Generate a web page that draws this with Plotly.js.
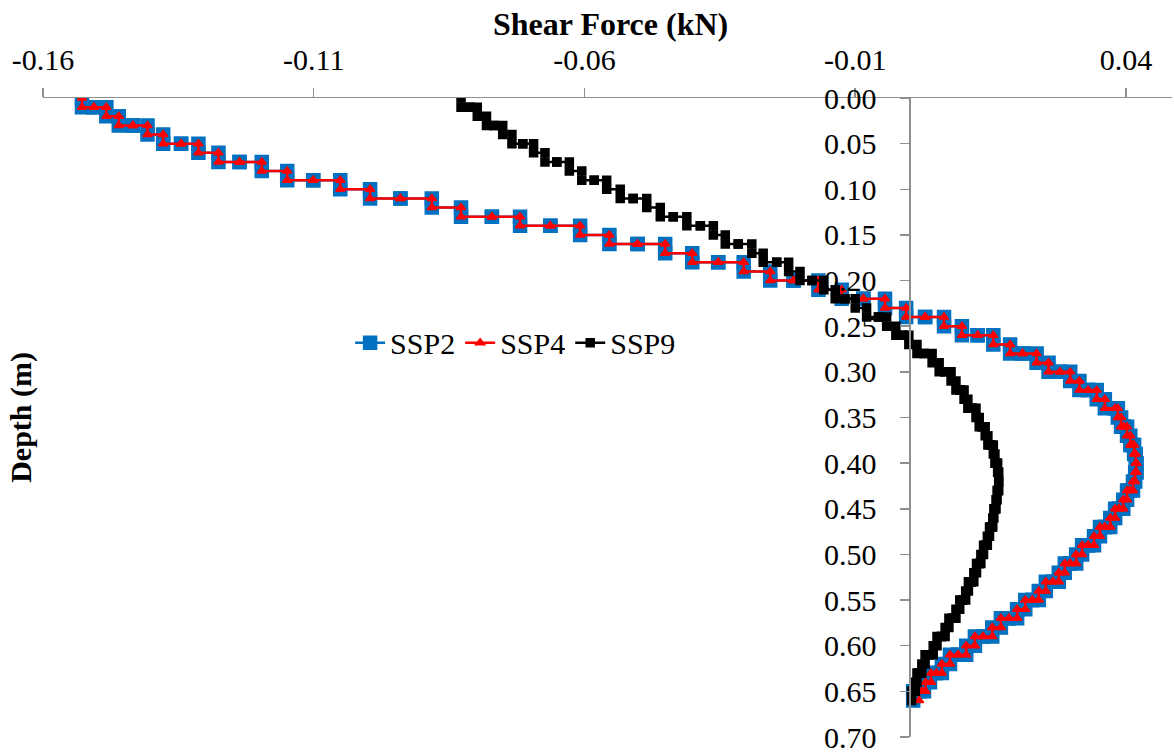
<!DOCTYPE html>
<html>
<head>
<meta charset="utf-8">
<script src="https://cdn.plot.ly/plotly-3.0.1.min.js"></script>
<style>
  html, body { margin: 0; padding: 0; background: #ffffff; }
  #chart { width: 1174px; height: 753px; }
</style>
</head>
<body>
<div id="chart"></div>
<script>
// Node depths (m), as plotted (rounded to 0.01)
const depthNodes = [
  0.00,0.01,0.01,0.02,0.03,0.03,0.04,0.05,0.05,0.06,
  0.07,0.07,0.08,0.09,0.09,0.10,0.11,0.11,0.12,0.13,
  0.13,0.14,0.14,0.15,0.16,0.16,0.17,0.18,0.18,0.19,
  0.20,0.20,0.21,0.22,0.22,0.23,0.24,0.24,0.25,0.26,
  0.26,0.27,0.28,0.28,0.29,0.30,0.30,0.31,0.32,0.32,
  0.33,0.34,0.34,0.35,0.36,0.36,0.37,0.38,0.38,0.39,
  0.40,0.40,0.41,0.41,0.42,0.43,0.43,0.44,0.45,0.45,
  0.46,0.47,0.47,0.48,0.49,0.49,0.50,0.51,0.51,0.52,
  0.53,0.53,0.54,0.55,0.55,0.56,0.57,0.57,0.58,0.59,
  0.59,0.60,0.61,0.61,0.62,0.63,0.63,0.64,0.65,0.65,
  0.66
];

// Element shear force (kN), one value per element between consecutive nodes
const shearSSP2 = [
  -0.1528,-0.1506,-0.1483,-0.1460,-0.1434,-0.1407,-0.1378,-0.1345,-0.1313,-0.1276,
  -0.1237,-0.1196,-0.1149,-0.1101,-0.1051,-0.0996,-0.0940,-0.0882,-0.0828,-0.0771,
  -0.0719,-0.0663,-0.0608,-0.0554,-0.0502,-0.0451,-0.0401,-0.0353,-0.0306,-0.0257,
  -0.0214,-0.0168,-0.0125,-0.0085,-0.0045,-0.0006,0.0029,0.0064,0.0097,0.0126,
  0.0155,0.0186,0.0209,0.0235,0.0257,0.0278,0.0297,0.0314,0.0330,0.0346,
  0.0361,0.0380,0.0385,0.0391,0.0396,0.0402,0.0408,0.0411,0.0415,0.0418,
  0.0419,0.0419,0.0419,0.0417,0.0413,0.0407,0.0402,0.0395,0.0387,0.0380,
  0.0371,0.0361,0.0352,0.0341,0.0330,0.0319,0.0308,0.0297,0.0287,0.0276,
  0.0265,0.0252,0.0239,0.0227,0.0214,0.0199,0.0184,0.0169,0.0153,0.0136,
  0.0121,0.0105,0.0090,0.0075,0.0060,0.0049,0.0038,0.0027,0.0018,0.0007
];

const shearSSP4 = [
  -0.1528,-0.1506,-0.1483,-0.1460,-0.1434,-0.1407,-0.1378,-0.1345,-0.1313,-0.1276,
  -0.1237,-0.1196,-0.1149,-0.1101,-0.1051,-0.0996,-0.0940,-0.0882,-0.0828,-0.0771,
  -0.0719,-0.0663,-0.0608,-0.0554,-0.0502,-0.0451,-0.0401,-0.0353,-0.0306,-0.0257,
  -0.0214,-0.0168,-0.0125,-0.0085,-0.0045,-0.0006,0.0029,0.0064,0.0097,0.0126,
  0.0155,0.0186,0.0209,0.0235,0.0257,0.0278,0.0297,0.0314,0.0330,0.0346,
  0.0361,0.0380,0.0385,0.0391,0.0396,0.0402,0.0408,0.0411,0.0415,0.0418,
  0.0419,0.0419,0.0419,0.0417,0.0413,0.0407,0.0402,0.0395,0.0387,0.0380,
  0.0371,0.0361,0.0352,0.0341,0.0330,0.0319,0.0308,0.0297,0.0287,0.0276,
  0.0265,0.0252,0.0239,0.0227,0.0214,0.0199,0.0184,0.0169,0.0153,0.0136,
  0.0121,0.0105,0.0090,0.0075,0.0060,0.0050,0.0040,0.0030,0.0024,0.0018
];

const shearSSP9 = [
  -0.0828,-0.0812,-0.0798,-0.0781,-0.0767,-0.0751,-0.0734,-0.0714,-0.0694,-0.0673,
  -0.0651,-0.0628,-0.0605,-0.0582,-0.0559,-0.0534,-0.0510,-0.0485,-0.0460,-0.0436,
  -0.0411,-0.0386,-0.0362,-0.0340,-0.0316,-0.0291,-0.0270,-0.0245,-0.0223,-0.0202,
  -0.0180,-0.0158,-0.0137,-0.0119,-0.0100,-0.0079,-0.0057,-0.0042,-0.0025,-0.0012,
  -0.0001,0.0014,0.0027,0.0042,0.0055,0.0066,0.0077,0.0086,0.0094,0.0101,
  0.0108,0.0116,0.0123,0.0129,0.0134,0.0140,0.0145,0.0150,0.0155,0.0158,
  0.0161,0.0163,0.0164,0.0165,0.0165,0.0164,0.0162,0.0160,0.0158,0.0156,
  0.0154,0.0151,0.0148,0.0144,0.0141,0.0137,0.0132,0.0129,0.0124,0.0119,
  0.0114,0.0109,0.0104,0.0098,0.0093,0.0086,0.0080,0.0073,0.0066,0.0059,
  0.0051,0.0044,0.0036,0.0029,0.0023,0.0018,0.0014,0.0011,0.0007,0.0004
];

const seriesNames = ["SSP2", "SSP4", "SSP9"];
const xTitle = "Shear Force (kN)";
const yTitle = "Depth (m)";
const xTickVals = [-0.16, -0.11, -0.06, -0.01, 0.04];
const xTickText = ["-0.16", "-0.11", "-0.06", "-0.01", "0.04"];
const yTickVals = [0.00,0.05,0.10,0.15,0.20,0.25,0.30,0.35,0.40,0.45,0.50,0.55,0.60,0.65,0.70];
const yTickText = ["0.00","0.05","0.10","0.15","0.20","0.25","0.30","0.35","0.40","0.45","0.50","0.55","0.60","0.65","0.70"];

// each element's shear is plotted at its top node and bottom node
function stair(vals) {
  const x = [], y = [];
  for (let i = 0; i < vals.length; i++) {
    x.push(vals[i]); y.push(depthNodes[i]);
    x.push(vals[i]); y.push(depthNodes[i + 1]);
  }
  return {x, y};
}

const s2 = stair(shearSSP2), s4 = stair(shearSSP4), s9 = stair(shearSSP9);

const FONT = "serif";

const traces = [
  {
    x: s2.x, y: s2.y, name: seriesNames[0], type: "scatter", mode: "lines+markers",
    line: {color: "#0070C0", width: 2.5},
    marker: {symbol: "square", size: 11, color: "#0070C0", line: {color: "#0070C0", width: 3.5}}
  },
  {
    x: s4.x, y: s4.y, name: seriesNames[1], type: "scatter", mode: "lines+markers",
    line: {color: "#FF0000", width: 2.5},
    marker: {symbol: "triangle-up", size: 8, color: "#FF0000", line: {color: "#FF0000", width: 1.5}}
  },
  {
    x: s9.x, y: s9.y, name: seriesNames[2], type: "scatter", mode: "lines+markers",
    line: {color: "#000000", width: 2.5},
    marker: {symbol: "square", size: 6, color: "#000000", line: {color: "#000000", width: 3.5}}
  }
];

const xMin = -0.16, xMax = 0.0485;
const yAxisPos = (0 - xMin) / (xMax - xMin);

const layout = {
  width: 1174, height: 753,
  paper_bgcolor: "#ffffff", plot_bgcolor: "#ffffff",
  margin: {l: 42.7, r: 1.8, t: 97.7, b: 15.5, pad: 0},
  showlegend: true,
  legend: {
    orientation: "h", x: 0.272, y: 0.617, xanchor: "left", yanchor: "middle",
    bgcolor: "rgba(0,0,0,0)", font: {family: FONT, size: 30, color: "#000000"}
  },
  xaxis: {
    side: "top", range: [xMin, xMax], tickmode: "array",
    tickvals: xTickVals, ticktext: xTickText,
    showgrid: false, zeroline: false, showline: true,
    linecolor: "#8f8f8f", linewidth: 1.5,
    ticks: "outside", ticklen: 9, tickwidth: 1.5, tickcolor: "#8f8f8f",
    tickfont: {family: FONT, size: 30, color: "#000000"},
    ticklabelstandoff: 6, ticklabeloverflow: "allow"
  },
  yaxis: {
    range: [0.70, 0], anchor: "free", position: yAxisPos, tickmode: "array",
    tickvals: yTickVals, ticktext: yTickText,
    showgrid: false, zeroline: false, showline: true,
    linecolor: "#8f8f8f", linewidth: 1.5,
    ticks: "outside", ticklen: 9, tickwidth: 1.5, tickcolor: "#8f8f8f",
    tickfont: {family: FONT, size: 30, color: "#000000"},
    ticklabelstandoff: 18, ticklabeloverflow: "allow"
  },
  annotations: [
    {
      text: "<b>" + xTitle + "</b>", xref: "paper", yref: "paper",
      x: 0.5031, y: 1.1165, xanchor: "center", yanchor: "middle",
      showarrow: false,
      font: {family: FONT, size: 32, color: "#000000"}
    },
    {
      text: "<b>" + yTitle + "</b>", xref: "paper", yref: "paper",
      x: -0.0201, y: 0.5, xanchor: "center", yanchor: "middle",
      textangle: -90, showarrow: false,
      font: {family: FONT, size: 30, color: "#000000"}
    }
  ]
};

Plotly.newPlot("chart", traces, layout, {displayModeBar: false, staticPlot: true});
</script>
</body>
</html>
